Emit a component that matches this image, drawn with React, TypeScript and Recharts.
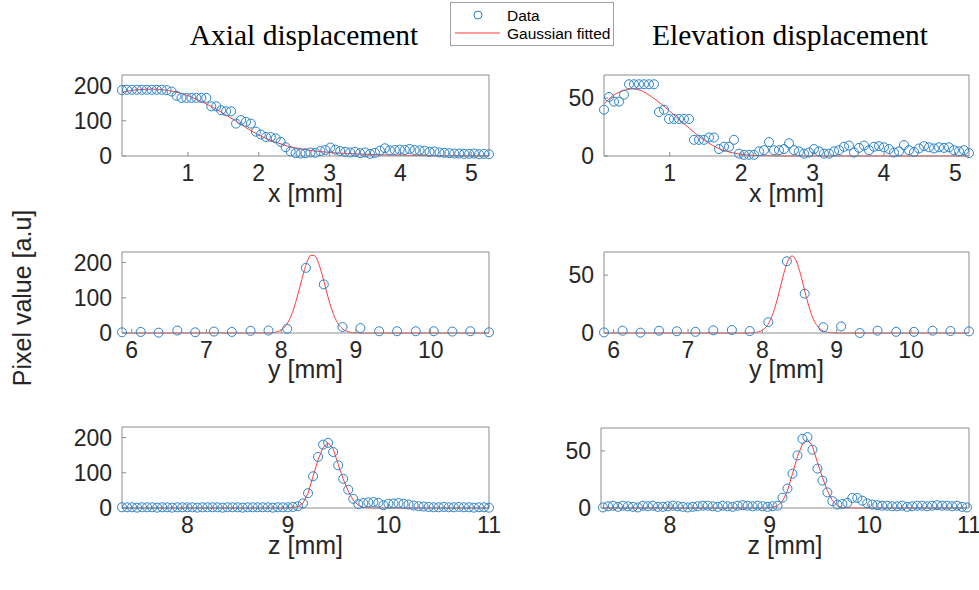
import React from 'react';
import { ComposedChart, Scatter, Line, XAxis, YAxis } from 'recharts';

const FONT = '"Liberation Sans", Arial, Helvetica, sans-serif';
const SERIF = '"Liberation Serif", "Times New Roman", Times, serif';
const BLUE = '#2a82c9';
const RED = '#ff3a3a';
const AXIS = '#8c8c8c';
const TXT = '#262626';

// ---------- Axial, x ----------
const axialXPos = [0.07,0.14,0.21,0.28,0.35,0.42,0.49,0.56,0.63,0.70,0.77,0.84,0.91,0.98,1.05,1.12,1.19,1.26,1.33,1.40,1.47,1.54,1.61,1.68,1.75,1.82,1.89,1.96,2.03,2.10,2.17,2.24,2.31,2.38,2.45,2.52,2.59,2.66,2.73,2.80,2.87,2.94,3.01,3.08,3.15,3.22,3.29,3.36,3.43,3.50,3.57,3.64,3.71,3.78,3.85,3.92,3.99,4.06,4.13,4.20,4.27,4.34,4.41,4.48,4.55,4.62,4.69,4.76,4.83,4.90,4.97,5.04,5.11,5.18,5.25];
const axialXVal = [187,188,188,188,188,188,188,188,188,187,183,171,165,165,165,165,165,165,141,141,130,127,127,92,102,97,92,69,61,54,54,50,40,25,13,8,7,8,10,9,14,17,24,18,14,12,10,12,8,10,6,9,15,22,16,17,18,17,20,17,16,15,12,13,10,9,8,7,7,6,6,7,5,6,5];
const axialXFitPos = [0.07,0.2,0.35,0.5,0.65,0.8,0.95,1.1,1.25,1.4,1.55,1.7,1.85,2.0,2.15,2.3,2.45,2.6,2.8,3.0,3.25,3.5,3.8,4.2,4.7,5.25];
const axialXFitVal = [181,186,189,190,188,183,175,163,149,133,115,96,77,60,46,35,26,20,14,10,7,5,3,1.5,0.5,0];

// ---------- Elevation, x ----------
const elevXPos = [0.08,0.15,0.22,0.29,0.36,0.43,0.50,0.57,0.64,0.71,0.78,0.85,0.92,0.99,1.06,1.13,1.20,1.27,1.34,1.41,1.48,1.55,1.62,1.69,1.76,1.83,1.90,1.97,2.04,2.11,2.18,2.25,2.32,2.39,2.46,2.53,2.60,2.67,2.74,2.81,2.88,2.95,3.02,3.09,3.16,3.23,3.30,3.37,3.44,3.51,3.58,3.65,3.72,3.79,3.86,3.93,4.00,4.07,4.14,4.21,4.28,4.35,4.42,4.49,4.56,4.63,4.70,4.77,4.84,4.91,4.98,5.05,5.12,5.19];
const elevXVal = [40,51,47,47,53,62,62,62,62,62,62,38,40,32,32,32,32,32,14,14,14,16,16,6,8,8,14,2,1,1,1,4,5,12,5,5,6,11,5,4,2,3,6,4,2,2,4,5,8,9,3,7,9,5,8,8.5,7.5,6,3,4,9.5,5,3.5,6.5,8.5,7.5,6.5,7.5,7,7.5,5,4,5,2.5];
const elevXFitPos = [0.08,0.2,0.35,0.48,0.6,0.75,0.9,1.05,1.2,1.35,1.5,1.65,1.8,1.95,2.1,2.3,2.6,5.19];
const elevXFitVal = [45,52,56.5,58,56.5,51,44,36,28,20,13,7.5,4,2,0.8,0.3,0,0];

// ---------- y (both) ----------
const yPos = [5.87,6.12,6.36,6.61,6.85,7.10,7.34,7.59,7.83,8.08,8.33,8.57,8.82,9.06,9.31,9.55,9.80,10.04,10.29,10.53,10.78];
const axialYVal = [2,3,1,7,2,4,3,6,7,12,185,138,17,14,5,5,5,5,4,5,2];
const elevYVal = [0.5,2,0.3,2,1.5,1,2.3,2.6,1.7,9.4,62,34,5,5.7,0,2,1,1,2,1.7,1.4];
const axialYFitPos = [5.87,7.8,7.9,8.0,8.05,8.1,8.15,8.2,8.25,8.3,8.35,8.4,8.45,8.5,8.55,8.6,8.65,8.7,8.75,8.8,8.85,8.9,9.0,9.1,10.78];
const axialYFitVal = [0,0.2,1.5,8.7,18,34,58,92,131,171,204,221,219,198,164,123,84,53,30,16,7.4,3.2,0.5,0,0];
const elevYFitPos = [5.87,7.8,7.9,8.0,8.05,8.1,8.15,8.2,8.25,8.3,8.35,8.4,8.45,8.5,8.55,8.6,8.65,8.7,8.75,8.8,8.9,9.0,10.78];
const elevYFitVal = [0,0,0.4,2.4,5.2,10.2,18,29,41.7,54,63.2,66.6,63.2,54,41.7,29,18,10.2,5.2,2.4,0.4,0,0];

// ---------- z ----------
const axialZPos = [7.35,7.40,7.45,7.50,7.55,7.60,7.65,7.70,7.75,7.80,7.85,7.90,7.95,8.00,8.05,8.10,8.15,8.20,8.25,8.30,8.35,8.40,8.45,8.50,8.55,8.60,8.65,8.70,8.75,8.80,8.85,8.90,8.95,9.00,9.05,9.10,9.15,9.20,9.25,9.30,9.35,9.40,9.45,9.50,9.55,9.60,9.65,9.70,9.75,9.80,9.85,9.90,9.95,10.00,10.05,10.10,10.15,10.20,10.25,10.30,10.35,10.40,10.45,10.50,10.55,10.60,10.65,10.70,10.75,10.80,10.85,10.90,10.95,11.00];
const axialZVal = [2,2,2,1,2,2,2,1,2,2,1,2,2,2,2,1,2,2,2,2,1,2,2,2,1,2,2,2,2,2,1,2,2,2,3,5,13,42,90,145,180,185,159,121,83,52,26,11,14,16,17,15,8,12,13,14,12,10,7,5,4,3,2,2,3,2,2,3,2,2,1,2,2,1];
const axialZFitPos = [7.35,8.95,9.0,9.05,9.10,9.15,9.20,9.25,9.30,9.35,9.40,9.45,9.50,9.55,9.60,9.65,9.70,9.75,9.80,9.85,11.0];
const axialZFitVal = [0,0,0.5,1.5,4,14,42,90,137,172,185,168,124,82,48,22,8,2,0.5,0,0];

const elevZPos = [7.33,7.38,7.43,7.48,7.53,7.58,7.63,7.68,7.73,7.78,7.83,7.88,7.93,7.98,8.03,8.08,8.13,8.18,8.23,8.28,8.33,8.38,8.43,8.48,8.53,8.58,8.63,8.68,8.73,8.78,8.83,8.88,8.93,8.98,9.03,9.08,9.13,9.18,9.23,9.28,9.33,9.38,9.43,9.48,9.53,9.58,9.63,9.68,9.73,9.78,9.83,9.88,9.93,9.98,10.03,10.08,10.13,10.18,10.23,10.28,10.33,10.38,10.43,10.48,10.53,10.58,10.63,10.68,10.73,10.78,10.83,10.88,10.93,10.98];
const elevZVal = [0.5,1.5,2,1,2,1.5,1,0.5,2,1.5,2,1,1,1.5,2,1.5,1,0.5,1,1.5,2,2,1.5,1,2,1.5,1,2,2.5,2,1.5,2,1.5,1,1.5,2,9,17,30,46,60.5,62,51,34.5,24,13.7,6,3,3.5,4.5,8.8,8.8,6.4,4,3,2.5,2,2,1.5,1.5,2,1,1.5,2,2,1.5,2,2.5,2,2,1.5,2,1,0.5];
const elevZFitPos = [7.33,8.98,9.03,9.08,9.13,9.18,9.23,9.28,9.33,9.38,9.43,9.48,9.53,9.58,9.63,9.68,9.73,9.78,10.98];
const elevZFitVal = [0,0,0.5,2,6,15,30,45,56,60,54,40,27,15,6.5,2,0.5,0,0];

// ---------- ticks ----------
const xTicksX = [1, 2, 3, 4, 5];
const xTicksY = [6, 7, 8, 9, 10];
const xTicksZ = [8, 9, 10, 11];
const yTicksAxial = [0, 100, 200];
const yTicksElev = [0, 50];

type Pt = { x: number; y: number };
const zip = (xs: number[], ys: number[]): Pt[] => xs.map((x, i) => ({ x, y: ys[i] }));

const Ring = (props: any) => {
  const { cx, cy } = props;
  if (cx == null || cy == null) return null;
  return <circle cx={cx} cy={cy} r={4.5} fill="none" stroke={BLUE} strokeWidth={1} />;
};

type PanelProps = {
  left: number; top: number; width: number; height: number;
  data: Pt[]; fit: Pt[];
  xDomain: [number, number]; xTicks: number[];
  yDomain: [number, number]; yTicks: number[];
  smooth: boolean;
};

const LW = 60, RW = 20, TH = 8, BH = 40;

function Panel(p: PanelProps) {
  const W = p.width + LW + RW;
  const H = p.height + TH + BH;
  const tickStyle = { fill: TXT, fontSize: 23, fontFamily: FONT };
  return (
    <div style={{ position: 'absolute', left: p.left - LW, top: p.top - TH }}>
      <ComposedChart width={W} height={H} margin={{ top: 0, right: 0, bottom: 0, left: 0 }}>
        <XAxis xAxisId="b" type="number" dataKey="x" orientation="bottom" domain={p.xDomain} ticks={p.xTicks}
          interval={0} height={BH} tickSize={-4} tickMargin={13}
          axisLine={{ stroke: AXIS }} tickLine={{ stroke: AXIS }} tick={tickStyle} />
        <XAxis xAxisId="t" type="number" dataKey="x" orientation="top" domain={p.xDomain} ticks={p.xTicks}
          interval={0} height={TH} tickSize={-4} tick={false}
          axisLine={{ stroke: AXIS }} tickLine={{ stroke: AXIS }} />
        <YAxis yAxisId="l" type="number" dataKey="y" orientation="left" domain={p.yDomain} ticks={p.yTicks}
          interval={0} width={LW} tickSize={-4} tickMargin={14}
          axisLine={{ stroke: AXIS }} tickLine={{ stroke: AXIS }} tick={tickStyle} />
        <YAxis yAxisId="r" type="number" dataKey="y" orientation="right" domain={p.yDomain} ticks={p.yTicks}
          interval={0} width={RW} tickSize={-4} tick={false}
          axisLine={{ stroke: AXIS }} tickLine={{ stroke: AXIS }} />
        <Scatter xAxisId="b" yAxisId="l" data={p.data} dataKey="y" shape={Ring} isAnimationActive={false} />
        <Line xAxisId="b" yAxisId="l" data={p.fit} dataKey="y" type={p.smooth ? 'monotone' : 'linear'}
          stroke={RED} strokeWidth={1} dot={false} activeDot={false} isAnimationActive={false} />
      </ComposedChart>
    </div>
  );
}

export default function App() {
  return (
    <div style={{ position: 'absolute', left: 0, top: 0, width: 979, height: 590, background: '#fff', overflow: 'hidden' }}>
      <Panel left={122} top={75} width={367} height={81} data={zip(axialXPos, axialXVal)} fit={zip(axialXFitPos, axialXFitVal)}
        xDomain={[0.07, 5.25]} xTicks={xTicksX} yDomain={[0, 230]} yTicks={yTicksAxial} smooth />
      <Panel left={604} top={75} width={365} height={81} data={zip(elevXPos, elevXVal)} fit={zip(elevXFitPos, elevXFitVal)}
        xDomain={[0.08, 5.19]} xTicks={xTicksX} yDomain={[0, 70]} yTicks={yTicksElev} smooth />
      <Panel left={122} top={252} width={367} height={81} data={zip(yPos, axialYVal)} fit={zip(axialYFitPos, axialYFitVal)}
        xDomain={[5.87, 10.78]} xTicks={xTicksY} yDomain={[0, 230]} yTicks={yTicksAxial} smooth />
      <Panel left={604} top={252} width={365} height={81} data={zip(yPos, elevYVal)} fit={zip(elevYFitPos, elevYFitVal)}
        xDomain={[5.87, 10.78]} xTicks={xTicksY} yDomain={[0, 70]} yTicks={yTicksElev} smooth />
      <Panel left={122} top={427} width={367} height={81} data={zip(axialZPos, axialZVal)} fit={zip(axialZFitPos, axialZFitVal)}
        xDomain={[7.35, 11.0]} xTicks={xTicksZ} yDomain={[0, 230]} yTicks={yTicksAxial} smooth={false} />
      <Panel left={601} top={428} width={368} height={80} data={zip(elevZPos, elevZVal)} fit={zip(elevZFitPos, elevZFitVal)}
        xDomain={[7.31, 11.0]} xTicks={xTicksZ} yDomain={[0, 70]} yTicks={yTicksElev} smooth={false} />

      <svg width={979} height={590} style={{ position: 'absolute', left: 0, top: 0, pointerEvents: 'none' }}>
        <text x={304} y={45} textAnchor="middle" fontFamily={SERIF} fontSize={29.5} fill="#000">Axial displacement</text>
        <text x={790} y={45} textAnchor="middle" fontFamily={SERIF} fontSize={29.5} fill="#000">Elevation displacement</text>

        <text x={305.5} y={193} textAnchor="middle" dominantBaseline="central" fontFamily={FONT} fontSize={25} fill={TXT}>x [mm]</text>
        <text x={786.5} y={193} textAnchor="middle" dominantBaseline="central" fontFamily={FONT} fontSize={25} fill={TXT}>x [mm]</text>
        <text x={305.5} y={369} textAnchor="middle" dominantBaseline="central" fontFamily={FONT} fontSize={25} fill={TXT}>y [mm]</text>
        <text x={786.5} y={369} textAnchor="middle" dominantBaseline="central" fontFamily={FONT} fontSize={25} fill={TXT}>y [mm]</text>
        <text x={305.5} y={545} textAnchor="middle" dominantBaseline="central" fontFamily={FONT} fontSize={25} fill={TXT}>z [mm]</text>
        <text x={785} y={545} textAnchor="middle" dominantBaseline="central" fontFamily={FONT} fontSize={25} fill={TXT}>z [mm]</text>

        <text x={22} y={298} transform="rotate(-90 22 298)" textAnchor="middle" dominantBaseline="central" fontFamily={FONT} fontSize={25} fill={TXT}>Pixel value [a.u]</text>

        <rect x={450.5} y={2.5} width={163} height={43} fill="#fff" stroke="#a0a0a0" strokeWidth={1} />
        <circle cx={478} cy={15} r={4} fill="none" stroke={BLUE} strokeWidth={1} />
        <line x1={455} y1={33} x2={500} y2={33} stroke={RED} strokeWidth={1} />
        <text x={507} y={15} dominantBaseline="central" fontFamily={FONT} fontSize={15.5} fill="#000">Data</text>
        <text x={507} y={33} dominantBaseline="central" fontFamily={FONT} fontSize={15.5} fill="#000">Gaussian fitted</text>
      </svg>
    </div>
  );
}
